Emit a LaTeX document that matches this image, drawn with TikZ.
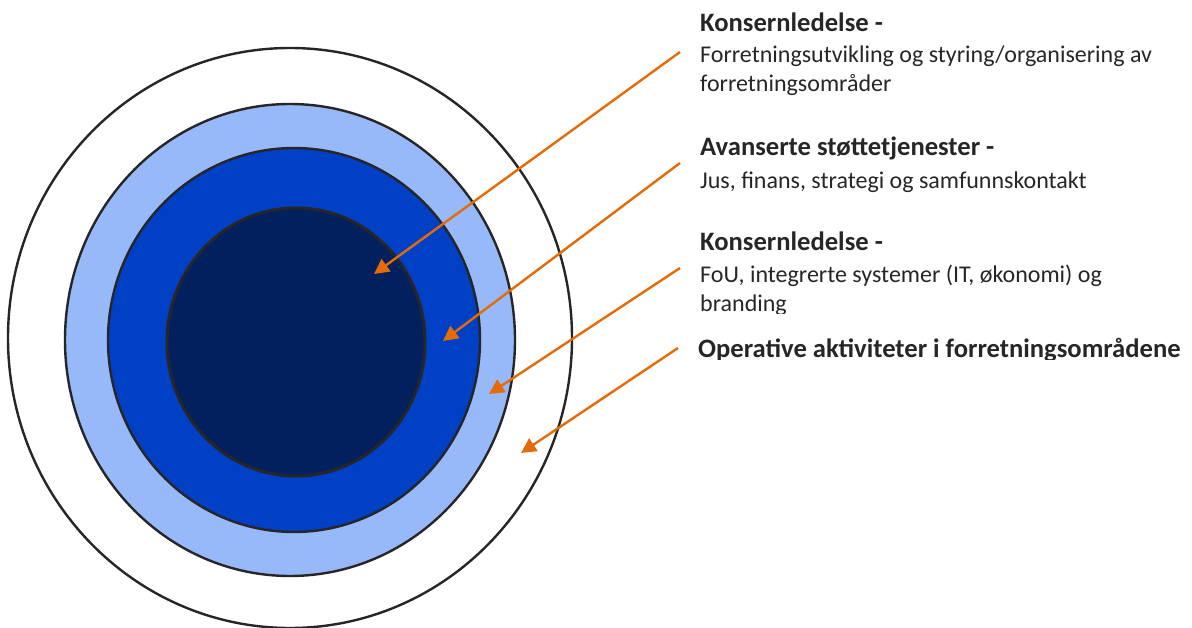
\documentclass[tikz,border=0pt]{standalone}
\usepackage{fontspec}
\setmainfont{Carlito}
\usetikzlibrary{arrows.meta}

\definecolor{ringlight}{RGB}{151,185,250}
\definecolor{ringmid}{RGB}{0,64,196}
\definecolor{ringcore}{RGB}{2,32,94}
\definecolor{pointer}{RGB}{227,108,9}
\definecolor{ink}{RGB}{38,38,38}

\begin{document}
\begin{tikzpicture}[x=1pt, y=-1pt,
    ring/.style={draw=ink, line width=2.4pt},
    pointer/.style={draw=pointer, line width=2.4pt, -{Triangle[length=15pt, width=15pt]}},
    head/.style={inner sep=0pt, anchor=base west, text=ink, font=\fontsize{26.6}{32}\selectfont\bfseries},
    body/.style={inner sep=0pt, anchor=base west, text=ink, font=\fontsize{24}{29}\selectfont}]
    \useasboundingbox (0,0) rectangle (1192,628);

    % rings, outermost first
    \draw[ring, fill=white] (290,338) ellipse (282 and 290);
    \draw[ring, fill=ringlight] (290,340) ellipse (225 and 236);
    \draw[ring, fill=ringmid] (294,340) ellipse (186 and 192);
    \draw[ring, line width=3pt, fill=ringcore] (296,342) ellipse (129 and 134);

    % labels
    \node[head] (head1) at (700,32) {Konsernledelse -};
    \node[body] (body1a) at (700,63) {Forretningsutvikling og styring/organisering av};
    \node[body] (body1b) at (700,92) {forretningsområder};

    \node[head] (head2) at (700,156) {Avanserte støttetjenester -};
    \node[body] (body2a) at (700,189) {Jus, finans, strategi og samfunnskontakt};

    \node[head] (head3) at (700,251) {Konsernledelse -};
    \node[body] (body3a) at (700,283) {FoU, integrerte systemer (IT, økonomi) og};
    \begin{scope}
        \clip (690,290) rectangle (1000,314);
        \node[body] (body3b) at (700,312) {branding};
    \end{scope}

    \begin{scope}
        \clip (690,330) rectangle (1192,360);
        \node[head] (head4) at (698,358) {Operative aktiviteter i forretningsområdene};
    \end{scope}

    % pointers into the rings
    \coordinate (tail1) at (680,52);  \coordinate (tip1) at (374,274);
    \coordinate (tail2) at (680,163); \coordinate (tip2) at (443,341);
    \coordinate (tail3) at (680,268); \coordinate (tip3) at (489,394);
    \coordinate (tail4) at (678,348); \coordinate (tip4) at (521,453);
    \foreach \i in {1,...,4}
        \draw[pointer] (tail\i) -- (tip\i);
\end{tikzpicture}
\end{document}
